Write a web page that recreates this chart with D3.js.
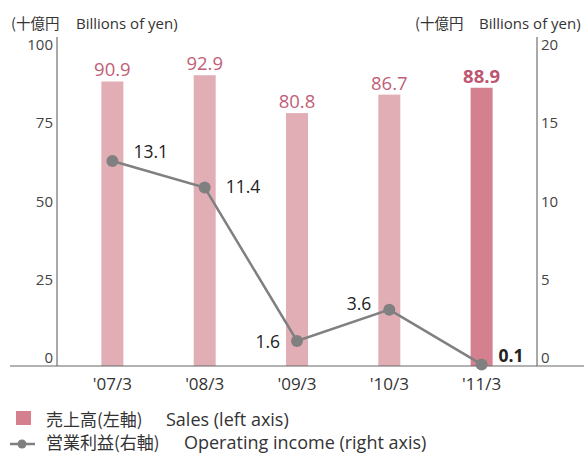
<!DOCTYPE html>
<html>
<head>
<meta charset="utf-8">
<script src="https://cdn.jsdelivr.net/npm/d3@7"></script>
<style>
  html, body { margin: 0; padding: 0; background: #fff; }
  svg { display: block; font-family: "Open Sans", "Noto Sans CJK JP", sans-serif; }
  .cjk { font-family: "Noto Sans CJK JP", sans-serif; }
</style>
</head>
<body>
<svg id="chart" width="584" height="454"></svg>
<script>
// Fiscal years (March year-end)
const years = ["'07/3", "'08/3", "'09/3", "'10/3", "'11/3"];
// Sales, billions of yen (left axis)
const sales = [90.9, 92.9, 80.8, 86.7, 88.9];
// Operating income, billions of yen (right axis)
const income = [13.1, 11.4, 1.6, 3.6, 0.1];
// Axis ticks
const leftTicks = [0, 25, 50, 75, 100];
const rightTicks = [0, 5, 10, 15, 20];

const svg = d3.select("#chart");
const plotL = 57, plotR = 537, plotT = 53, base = 366;

const x = d3.scalePoint().domain(years).range([plotL, plotR]).padding(0.6);
const yL = d3.scaleLinear().domain([0, 100]).range([base, plotT]);
const yR = d3.scaleLinear().domain([0, 20]).range([base, plotT]);

const barColor = "#e2aeb5", barLast = "#d5808f";
const salesLabel = "#c06077";
const grey = "#808080";
const text = "#333";

// Unit headers: Japanese part, then English part
function unitHeader(xStart, xLatin) {
  const t = svg.append("text").attr("y", 29).attr("fill", text);
  t.append("tspan").attr("class", "cjk").attr("x", xStart).attr("font-size", 14.5).text("(十億円");
  t.append("tspan").attr("x", xLatin).attr("font-size", 15).text("Billions of yen)");
}
unitHeader(11, 76);
unitHeader(415, 479);

// Bars
const bw = 22;
svg.selectAll("rect.bar").data(sales).join("rect")
  .attr("class", "bar")
  .attr("x", (d, i) => x(years[i]) - bw / 2)
  .attr("width", bw)
  .attr("y", d => yL(d))
  .attr("height", d => base - yL(d))
  .attr("fill", (d, i) => i === sales.length - 1 ? barLast : barColor);

// Sales value labels
svg.selectAll("text.sv").data(sales).join("text")
  .attr("class", "sv")
  .attr("x", (d, i) => x(years[i]))
  .attr("y", d => yL(d) - 5)
  .attr("text-anchor", "middle")
  .attr("font-size", 18.5)
  .attr("font-weight", (d, i) => i === sales.length - 1 ? 700 : 400)
  .attr("fill", (d, i) => i === sales.length - 1 ? "#bd5670" : salesLabel)
  .text(d => d.toFixed(1));

// Axis lines
svg.append("line").attr("x1", plotL).attr("x2", plotL).attr("y1", 37).attr("y2", base)
  .attr("stroke", "#555").attr("stroke-width", 1);
svg.append("line").attr("x1", plotR).attr("x2", plotR).attr("y1", 37).attr("y2", base)
  .attr("stroke", "#555").attr("stroke-width", 1);
svg.append("line").attr("x1", 10).attr("x2", 584).attr("y1", base).attr("y2", base)
  .attr("stroke", "#666").attr("stroke-width", 1.2);

// Tick labels (sit just above their values)
svg.selectAll("text.lt").data(leftTicks).join("text")
  .attr("class", "lt").attr("x", 53).attr("y", d => yL(d) - 3)
  .attr("text-anchor", "end").attr("font-size", 15).attr("fill", "#444")
  .text(d => d);
svg.selectAll("text.rt").data(rightTicks).join("text")
  .attr("class", "rt").attr("x", 541).attr("y", d => yR(d) - 3)
  .attr("font-size", 15).attr("fill", "#444")
  .text(d => d);

// Category labels
svg.selectAll("text.xl").data(years).join("text")
  .attr("class", "xl").attr("x", d => x(d)).attr("y", 390)
  .attr("text-anchor", "middle").attr("font-size", 17).attr("fill", text)
  .text(d => d);

// Operating income line
const line = d3.line().x((d, i) => x(years[i])).y(d => yR(d));
svg.append("path").datum(income).attr("d", line)
  .attr("fill", "none").attr("stroke", grey).attr("stroke-width", 2.5);
svg.selectAll("circle.pt").data(income).join("circle")
  .attr("class", "pt").attr("cx", (d, i) => x(years[i])).attr("cy", d => yR(d))
  .attr("r", 6).attr("fill", grey);

// Income value labels
const incOffsets = [
  { dx: 21, dy: -3, anchor: "start" },
  { dx: 21, dy: 5, anchor: "start" },
  { dx: -17, dy: 7, anchor: "end" },
  { dx: -18, dy: 0, anchor: "end" },
  { dx: 17, dy: -2, anchor: "start", bold: true }
];
svg.selectAll("text.iv").data(income).join("text")
  .attr("class", "iv")
  .attr("x", (d, i) => x(years[i]) + incOffsets[i].dx)
  .attr("y", d => yR(d))
  .attr("dy", (d, i) => incOffsets[i].dy)
  .attr("text-anchor", (d, i) => incOffsets[i].anchor)
  .attr("font-size", 17.5)
  .attr("font-weight", (d, i) => incOffsets[i].bold ? 700 : 400)
  .attr("fill", "#222")
  .text(d => d.toFixed(1));

// Legend
const lg = svg.append("g");
lg.append("rect").attr("x", 16).attr("y", 411).attr("width", 15).attr("height", 14).attr("fill", barLast);
const l1 = lg.append("text").attr("y", 426).attr("fill", text);
l1.append("tspan").attr("class", "cjk").attr("x", 46).attr("font-size", 17).text("売上高(左軸)");
l1.append("tspan").attr("x", 166).attr("font-size", 18).text("Sales (left axis)");
lg.append("line").attr("x1", 10).attr("x2", 35).attr("y1", 444).attr("y2", 444)
  .attr("stroke", grey).attr("stroke-width", 2.5);
lg.append("circle").attr("cx", 22).attr("cy", 444).attr("r", 4.5).attr("fill", grey);
const l2 = lg.append("text").attr("y", 449).attr("fill", text);
l2.append("tspan").attr("class", "cjk").attr("x", 46).attr("font-size", 17).text("営業利益(右軸)");
l2.append("tspan").attr("x", 184).attr("font-size", 18).text("Operating income (right axis)");
</script>
</body>
</html>
